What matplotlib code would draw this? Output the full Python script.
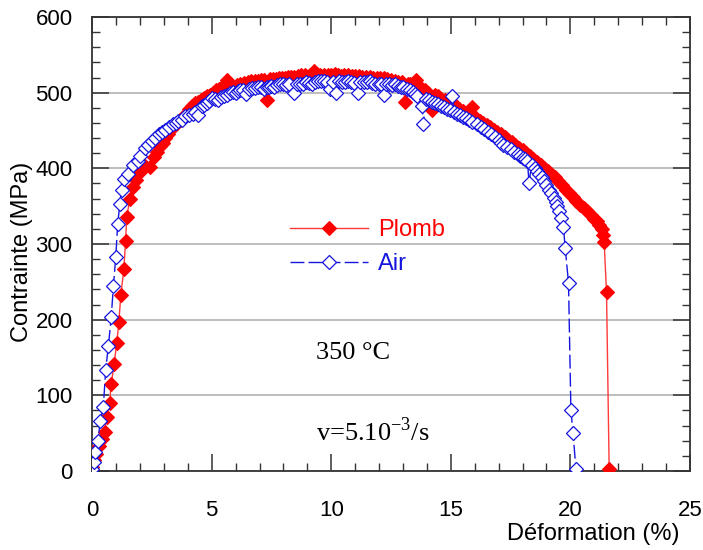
import matplotlib
matplotlib.use("Agg")
import matplotlib.pyplot as plt
from matplotlib.ticker import MultipleLocator

plt.rcParams['font.family'] = ['Liberation Sans', 'DejaVu Sans']

# Plomb (lead environment) - strain (%) / stress (MPa)
plomb_x = [0.00, 0.10, 0.18, 0.29, 0.40, 0.52, 0.61, 0.73, 0.80, 0.92, 1.03, 1.12, 1.20, 1.33,
           1.40, 1.45, 1.58, 1.72, 1.85, 2.00, 2.20, 2.43, 2.57, 2.70, 2.85, 2.95, 3.05, 3.18,
           3.30, 3.42, 3.55, 3.68, 3.80, 3.92, 4.05, 4.18, 4.31, 4.43, 4.55, 4.68, 4.80, 4.92,
           5.05, 5.18, 5.30, 5.45, 5.64, 5.78, 5.90, 6.05, 6.20, 6.35, 6.50, 6.65, 6.80, 6.92,
           7.05, 7.18, 7.31, 7.43, 7.55, 7.68, 7.80, 7.92, 8.05, 8.18, 8.30, 8.45, 8.60, 8.75,
           8.90, 9.10, 9.27, 9.40, 9.55, 9.70, 9.85, 10.00, 10.15, 10.28, 10.40, 10.55, 10.70,
           10.85, 11.00, 11.15, 11.30, 11.45, 11.60, 11.75, 11.90, 12.05, 12.20, 12.35, 12.50,
           12.65, 12.80, 12.95, 13.10, 13.20, 13.30, 13.53, 13.65, 13.80, 13.92, 14.05, 14.20,
           14.35, 14.48, 14.60, 14.75, 14.90, 15.05, 15.20, 15.35, 15.50, 15.65, 15.90, 16.05,
           16.20, 16.35, 16.50, 16.65, 16.80, 16.95, 17.10, 17.25, 17.40, 17.55, 17.70, 17.85,
           18.00, 18.15, 18.30, 18.45, 18.60, 18.75, 18.90, 19.05, 19.20, 19.35, 19.50, 19.65,
           19.80, 19.95, 20.10, 20.25, 20.40, 20.55, 20.70, 20.85, 21.00, 21.10, 21.20, 21.30,
           21.38, 21.41, 21.51, 21.62]
plomb_y = [5, 15, 22, 33, 42, 51, 72, 90, 115, 141, 169, 197, 232, 267,
           304, 336, 360, 375, 385, 395, 403, 402, 415, 421, 429, 434, 440, 446,
           452, 456, 460, 464, 468, 472, 478, 482, 486, 488, 490, 493, 495, 497,
           500, 503, 505, 508, 517, 511, 508, 510, 511, 513, 514, 515, 516, 516,
           517, 517, 490, 518, 518, 518, 519, 519, 520, 521, 521, 521, 522, 523,
           523, 524, 528, 525, 524, 524, 523, 524, 525, 523, 522, 523, 523,
           522, 522, 522, 521, 521, 521, 520, 520, 520, 519, 518, 517,
           516, 514, 514, 488, 512, 511, 517, 508, 505, 503, 500, 477,
           497, 495, 492, 490, 487, 485, 482, 479, 476, 473, 481, 466,
           462, 460, 457, 454, 451, 448, 445, 441, 438, 435, 431, 427,
           424, 420, 416, 412, 409, 405, 401, 397, 392, 388, 383, 378,
           372, 367, 362, 357, 352, 348, 343, 338, 333, 330, 325, 320,
           312, 303, 236, 3]

# Air
air_x = [0.00, 0.08, 0.13, 0.26, 0.33, 0.47, 0.57, 0.68, 0.80, 0.89, 0.99, 1.07, 1.16, 1.24,
         1.35, 1.52, 1.73, 1.90, 2.01, 2.22, 2.35, 2.50, 2.64, 2.78, 2.92, 3.06, 3.23, 3.40,
         3.50, 3.60, 3.75, 3.89, 4.05, 4.20, 4.32, 4.44, 4.59, 4.70, 4.80, 4.90, 5.01, 5.13,
         5.25, 5.38, 5.50, 5.62, 5.75, 5.88, 6.00, 6.10, 6.20, 6.32, 6.45, 6.58, 6.70, 6.82,
         6.95, 7.08, 7.20, 7.30, 7.40, 7.50, 7.60, 7.72, 7.85, 7.98, 8.10, 8.25, 8.43, 8.55,
         8.70, 8.82, 8.95, 9.08, 9.20, 9.32, 9.45, 9.58, 9.70, 9.82, 9.95, 10.08, 10.20,
         10.32, 10.45, 10.58, 10.70, 10.82, 10.95, 11.10, 11.22, 11.35, 11.48, 11.60, 11.72,
         11.85, 11.98, 12.10, 12.20, 12.30, 12.40, 12.52, 12.65, 12.78, 12.90, 13.02, 13.15,
         13.28, 13.40, 13.50, 13.60, 13.80, 13.85, 13.95, 14.10, 14.22, 14.35, 14.48, 14.60,
         14.72, 14.85, 14.95, 15.06, 15.15, 15.25, 15.38, 15.50, 15.62, 15.75, 15.90, 16.10,
         16.25, 16.40, 16.55, 16.70, 16.85, 17.00, 17.10, 17.20, 17.35, 17.50, 17.65, 17.80,
         17.90, 18.00, 18.10, 18.20, 18.27, 18.38, 18.50, 18.60, 18.70, 18.80, 18.90, 19.00,
         19.10, 19.20, 19.30, 19.38, 19.45, 19.53, 19.60, 19.71, 19.78, 19.92, 20.02, 20.11,
         20.23]
air_y = [3, 12, 25, 40, 66, 85, 134, 165, 203, 244, 283, 326, 353, 372,
         386, 392, 405, 410, 416, 427, 431, 436, 440, 445, 448, 451, 455, 458,
         460, 462, 464, 469, 470, 472, 475, 471, 482, 484, 486, 489, 493, 492,
         490, 494, 495, 497, 499, 501, 500, 502, 504, 503, 498, 505, 506, 506,
         507, 508, 505, 507, 508, 509, 508, 510, 511, 511, 510, 511, 499, 512,
         512, 512, 514, 513, 511, 514, 515, 515, 515, 514, 505, 514, 499,
         515, 514, 514, 516, 514, 513, 499, 514, 514, 514, 515, 513,
         512, 512, 511, 497, 511, 512, 510, 511, 509, 508, 507, 505,
         503, 501, 498, 495, 482, 458, 492, 490, 488, 486, 485, 483,
         481, 479, 477, 495, 474, 472, 470, 468, 466, 464, 461, 458,
         455, 452, 448, 445, 441, 437, 434, 431, 428, 425, 422, 419,
         416, 414, 412, 410, 381, 405, 400, 396, 392, 388, 383, 378,
         372, 367, 361, 356, 350, 344, 335, 322, 295, 249, 81, 50,
         3]

fig = plt.figure(figsize=(7.03, 5.5), dpi=100)
ax = fig.add_axes([0.131, 0.1436, 0.8505, 0.8255])

ax.plot(plomb_x, plomb_y, color='#ff3a3a', lw=1, marker='D', ms=7.5,
        mfc='#ff0000', mec='#ff0000', mew=0.8, label='Plomb', zorder=3)
ax.plot(air_x, air_y, color='#1515e0', lw=1, dashes=(10, 3), marker='D', ms=7.5,
        mfc='white', mec='#1515e0', mew=0.9, label='Air', zorder=4)

ax.set_xlim(0, 25)
ax.set_ylim(0, 600)
ax.xaxis.set_major_locator(MultipleLocator(5))
ax.xaxis.set_minor_locator(MultipleLocator(1))
ax.yaxis.set_major_locator(MultipleLocator(100))
ax.yaxis.set_minor_locator(MultipleLocator(20))
ax.grid(axis='y', color='#b8b8b8', lw=1.3)
ax.set_axisbelow(True)

ax.tick_params(which='both', direction='in', top=True, right=True, color='#333333')
ax.tick_params(which='major', length=12, width=1.1, labelsize=16)
ax.tick_params(which='minor', length=6, width=1)
ax.tick_params(axis='x', which='major', pad=21)
ax.tick_params(axis='y', which='major', pad=14)
for s in ax.spines.values():
    s.set_color('#333333')
    s.set_linewidth(1.3)

ax.set_xlabel('Déformation (%)', fontsize=17, ha='right')
ax.xaxis.set_label_coords(0.983, -0.115)
ax.set_ylabel('Contrainte (MPa)', fontsize=17)
ax.yaxis.set_label_coords(-0.098, 0.482)

leg = ax.legend(loc='upper left', bbox_to_anchor=(0.315, 0.575), frameon=False,
                fontsize=17, handlelength=3.3, handletextpad=0.45, labelspacing=0.5,
                numpoints=1, borderaxespad=0)
for txt, c in zip(leg.get_texts(), ['#ff0000', '#1515e0']):
    txt.set_color(c)

ax.text(0.375, 0.26, '350 °C', transform=ax.transAxes, fontsize=19,
        family='Liberation Serif', va='center')
ax.text(0.375, 0.086, r'v=5.10$^{\mathregular{-3}}$/s', transform=ax.transAxes, fontsize=19,
        family='Liberation Serif', va='center')

fig.savefig('out.png', dpi=100)
